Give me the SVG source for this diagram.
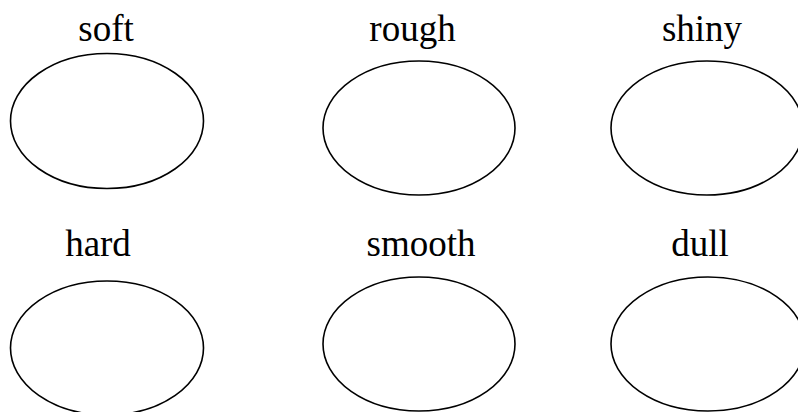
<svg xmlns="http://www.w3.org/2000/svg" width="798" height="412" viewBox="0 0 798 412">
<style>
.shape{fill:#ffffff;stroke:#000000;stroke-width:1.6}
.label{font-family:"Liberation Serif","Times New Roman",serif;font-size:37px;fill:#000000;text-anchor:middle}
</style>
<rect x="0" y="0" width="798" height="412" fill="#ffffff"/>
<g id="node-soft">
<text class="label" x="106" y="41">soft</text>
<ellipse class="shape" cx="107" cy="121" rx="96.5" ry="67.5"/>
</g>
<g id="node-rough">
<text class="label" x="412.5" y="41">rough</text>
<ellipse class="shape" cx="419" cy="128" rx="96" ry="67"/>
</g>
<g id="node-shiny">
<text class="label" x="702" y="41">shiny</text>
<ellipse class="shape" cx="707" cy="128" rx="96" ry="67"/>
</g>
<g id="node-hard">
<text class="label" x="98" y="256">hard</text>
<ellipse class="shape" cx="107" cy="348" rx="96.5" ry="67"/>
</g>
<g id="node-smooth">
<text class="label" x="421" y="256">smooth</text>
<ellipse class="shape" cx="419" cy="344" rx="96" ry="67"/>
</g>
<g id="node-dull">
<text class="label" x="700" y="256">dull</text>
<ellipse class="shape" cx="708" cy="344" rx="97" ry="67"/>
</g>
<g id="connectors"></g>
</svg>
